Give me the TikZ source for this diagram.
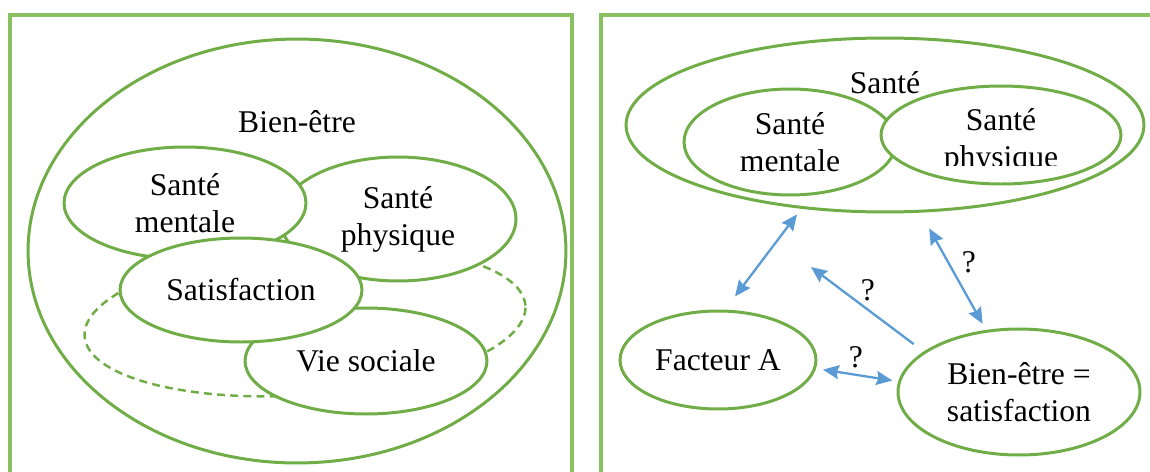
\documentclass[tikz,border=0pt]{standalone}
\usepackage{fontspec}
\setmainfont{Liberation Serif}
\usetikzlibrary{shapes.geometric,arrows.meta}
\definecolor{ogreen}{RGB}{112,173,71}
\definecolor{lgreen}{RGB}{137,193,96}
\definecolor{oblue}{RGB}{91,155,213}
\begin{document}
\begin{tikzpicture}[x=0.02cm,y=-0.02cm,
    font=\fontsize{18}{21}\selectfont,
    frame/.style={draw=lgreen,line width=1.9pt},
    blob/.style={ellipse,draw=ogreen,line width=1.7pt,fill=white,inner sep=0pt,align=center},
    hidden/.style={ellipse,draw=ogreen,line width=1.4pt,dash pattern=on 4.5pt off 3pt,inner sep=0pt},
    link/.style={draw=oblue,line width=1.3pt,{Stealth[length=0.32cm,width=0.28cm,inset=0.04cm]}-{Stealth[length=0.32cm,width=0.28cm,inset=0.04cm]}},
    onelink/.style={draw=oblue,line width=1.3pt,-{Stealth[length=0.32cm,width=0.28cm,inset=0.04cm]}}]
  \useasboundingbox (0,0) rectangle (1150,471);
  \draw[frame] (10,480) -- (10,15) -- (572,15) -- (572,480);
  \draw[frame] (601,480) -- (601,15) -- (1160,15);

  \node[blob,minimum width=10.76cm,minimum height=8.48cm] (bien) at (297,251) {};
  \node (bienT) at (297,122) {Bien-être};
  \node[hidden,rotate=4,minimum width=8.84cm,minimum height=2.96cm] (autre) at (305,321) {};
  \node[blob,minimum width=4.72cm,minimum height=2.48cm] (phys) at (398,219) {Santé\\physique};
  \node[blob,minimum width=4.84cm,minimum height=2.24cm] (ment) at (185,203) {Santé\\mentale};
  \node[blob,minimum width=4.84cm,minimum height=2.12cm] (vie) at (366,361) {Vie sociale};
  \node[blob,minimum width=4.84cm,minimum height=2.08cm] (satis) at (241,290) {Satisfaction};

  \node[blob,minimum width=10.36cm,minimum height=3.48cm] (sante) at (885,125) {};
  \node[blob,minimum width=4.24cm,minimum height=2.12cm] (smen) at (790,142) {Santé\\mentale};
  \node (santeT) at (885,83) {Santé};
  \node[blob,minimum width=4.8cm,minimum height=1.96cm] (sphy) at (1001,135) {};
  \begin{scope}
    \clip (920,90) rectangle (1090,165);
    \node[align=center] (sphyT) at (1001,141) {Santé\\physique};
  \end{scope}
  \node[blob,minimum width=3.92cm,minimum height=1.96cm] (fa) at (718,360) {Facteur A};
  \node[blob,minimum width=4.84cm,minimum height=2.52cm] (be) at (1019,392) {Bien-être =\\satisfaction};
  \coordinate (vide) at (811,267);

  \draw[link,shorten <=0.14cm,shorten >=0.33cm] (sante.225) to (fa.82);
  \draw[link,shorten <=0.36cm,shorten >=0.14cm] (sante.292) to (be.118);
  \draw[link,shorten <=0.14cm,shorten >=0.12cm] (fa.355) to (be.175);
  \draw[onelink,shorten <=0.25cm] (be.157) to (vide);
  \node (q1) at (969,262) {?};
  \node (q2) at (868,290) {?};
  \node (q3) at (856,357) {?};
\end{tikzpicture}
\end{document}
